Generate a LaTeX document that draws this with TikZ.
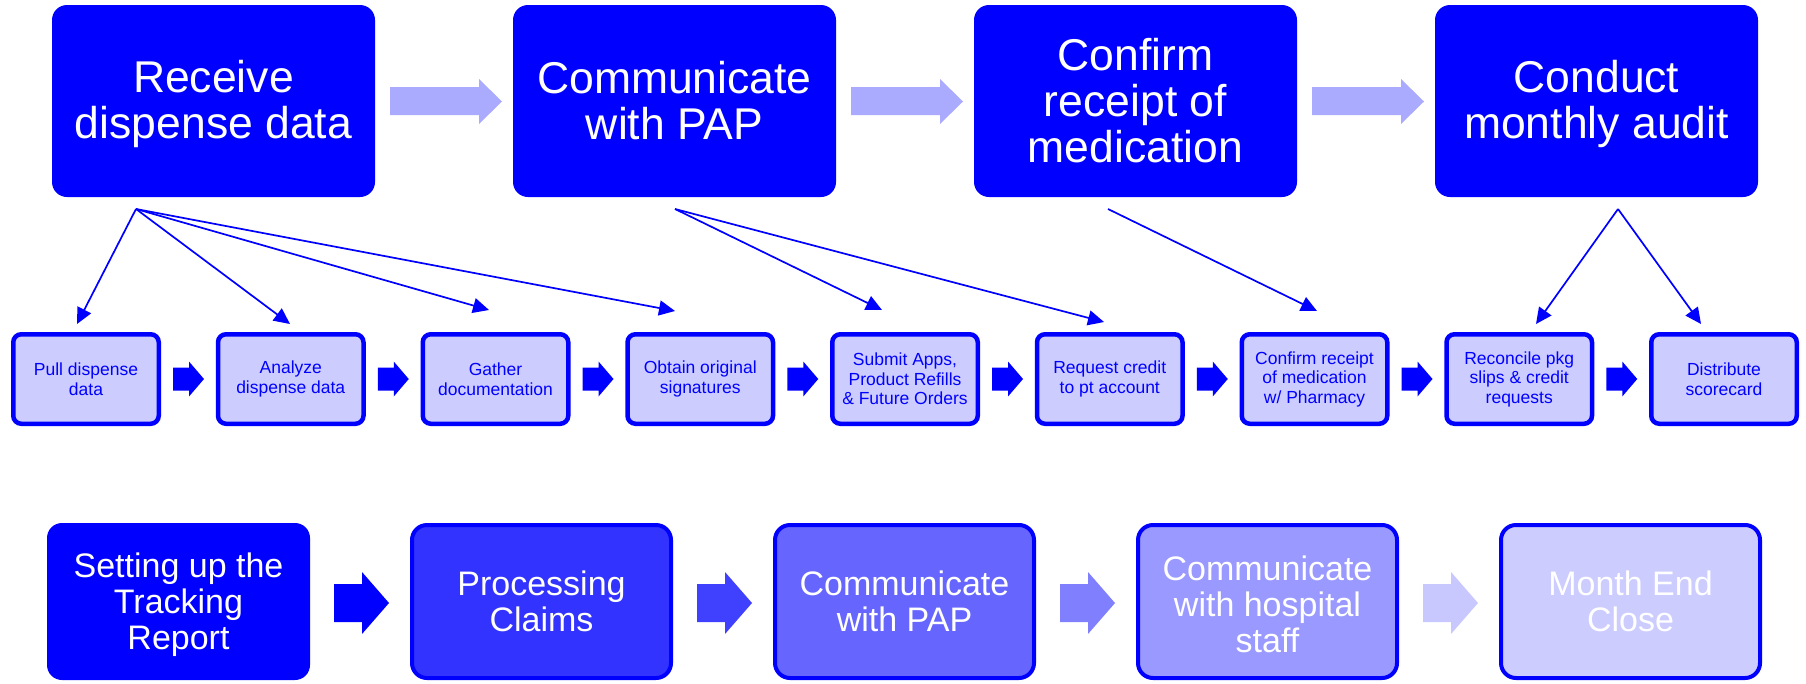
\documentclass[tikz,border=0pt]{standalone}
\usepackage{fontspec}
\setmainfont{Liberation Sans}
\usetikzlibrary{arrows.meta}
\definecolor{bl}{HTML}{0000FF}
\definecolor{lightbl}{HTML}{CCCCFF}
\definecolor{toparr}{HTML}{AAAAFF}
\definecolor{bA}{HTML}{0000FF}
\definecolor{bB}{HTML}{3333FF}
\definecolor{bC}{HTML}{6666FF}
\definecolor{bD}{HTML}{9999FF}
\definecolor{bE}{HTML}{CCCCFF}
\definecolor{aB}{HTML}{4040FF}
\definecolor{aC}{HTML}{8080FF}
\definecolor{aD}{HTML}{C8C8FF}
\newcommand{\mylift}[1]{\rule{0pt}{#1}}
\tikzset{
  topbox/.style={fill=bl, text=white, rounded corners=15pt, minimum width=323pt, minimum height=192pt, inner sep=0pt, align=center, font=\fontsize{44.5pt}{46pt}\selectfont},
  midbox/.style={draw=bl, line width=4.5pt, fill=lightbl, text=bl, rounded corners=8pt, minimum width=145.5pt, minimum height=89.5pt, inner sep=0pt, align=center, font=\fontsize{17.5pt}{19.5pt}\selectfont},
  botbox/.style={draw=bl, line width=4pt, text=white, rounded corners=15pt, minimum width=259pt, minimum height=153pt, inner sep=0pt, align=center, font=\fontsize{34pt}{36pt}\selectfont},
  fan/.style={draw=bl, line width=1.7pt, -{Triangle[length=16pt,width=15pt]}},
}
\begin{document}
\begin{tikzpicture}[x=1pt,y=-1pt]
\useasboundingbox (0,0) rectangle (1806,683);
% top row
\node[topbox] (T1) at (213.5,101) {\mylift{38pt}Receive\\dispense data};
\node[topbox] (T2) at (674.5,101) {Communicate\\with PAP};
\node[topbox] (T3) at (1135.5,101) {Confirm\\receipt of\\medication};
\node[topbox] (T4) at (1596.5,101) {\mylift{39pt}Conduct\\monthly audit};
\foreach \x in {390,851,1312}
  \fill[toparr] (\x,87) -- (\x+89,87) -- (\x+89,79) -- (\x+112,101.5) -- (\x+89,124) -- (\x+89,115) -- (\x,115) -- cycle;
% middle row
\node[midbox] (M1) at (86,379) {Pull dispense\\data};
\node[midbox] (M2) at (290.75,379) {Analyze\\dispense data};
\node[midbox] (M3) at (495.5,379) {Gather\\documentation};
\node[midbox] (M4) at (700.25,379) {Obtain original\\signatures};
\node[midbox] (M5) at (905,379) {Submit Apps,\\Product Refills\\\& Future Orders};
\node[midbox] (M6) at (1109.75,379) {Request credit\\to pt account};
\node[midbox] (M7) at (1314.5,379) {Confirm receipt\\of medication\\w/ Pharmacy};
\node[midbox] (M8) at (1519.25,379) {Reconcile pkg\\slips \& credit\\requests};
\node[midbox] (M9) at (1724,379) {Distribute\\scorecard};
\foreach \k in {0,...,7}{
  \pgfmathsetmacro{\xo}{173+204.75*\k}
  \fill[bl] (\xo,367.5) -- (\xo+16,367.5) -- (\xo+16,361.5) -- (\xo+31,379) -- (\xo+16,396.5) -- (\xo+16,390.5) -- (\xo,390.5) -- cycle;
}
% fan connectors
\coordinate (o1) at (136,209);
\coordinate (o2) at (675,209);
\coordinate (o3) at (1108,209);
\coordinate (o4) at (1618,209);
\coordinate (t1) at (77,324);
\coordinate (t2) at (290,324);
\coordinate (t3) at (489,310);
\coordinate (t4) at (675,311);
\coordinate (t5) at (882,310);
\coordinate (t6) at (1104,322);
\coordinate (t7) at (1317,311);
\coordinate (t8) at (1536,324);
\coordinate (t9) at (1701,324);
\draw[fan] (o1) -- (t1);
\draw[fan] (o1) -- (t2);
\draw[fan] (o1) -- (t3);
\draw[fan] (o1) -- (t4);
\draw[fan] (o2) -- (t5);
\draw[fan] (o2) -- (t6);
\draw[fan] (o3) -- (t7);
\draw[fan] (o4) -- (t8);
\draw[fan] (o4) -- (t9);
% bottom row
\node[botbox, draw=none, fill=bA, minimum width=263pt, minimum height=157pt] (B1) at (178.5,601.5) {\mylift{31pt}Setting up the\\Tracking\\Report};
\node[botbox, fill=bB] (B2) at (541.5,601.5) {Processing\\Claims};
\node[botbox, fill=bC] (B3) at (904.5,601.5) {Communicate\\with PAP};
\node[botbox, fill=bD] (B4) at (1267.5,601.5) {\mylift{29.5pt}Communicate\\with hospital\\staff};
\node[botbox, fill=bE] (B5) at (1630.5,601.5) {Month End\\Close};
\foreach \k/\c in {0/bA,1/aB,2/aC,3/aD}{
  \pgfmathsetmacro{\xo}{334+363*\k}
  \fill[\c] (\xo,584) -- (\xo+28,584) -- (\xo+28,572) -- (\xo+55,603) -- (\xo+28,634) -- (\xo+28,622) -- (\xo,622) -- cycle;
}
\end{tikzpicture}
\end{document}
